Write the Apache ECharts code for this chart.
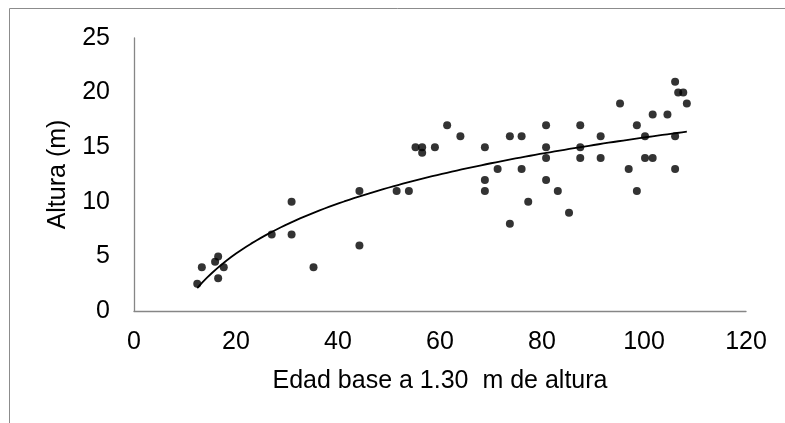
<!DOCTYPE html>
<html>
<head>
<meta charset="utf-8">
<script src="https://cdn.jsdelivr.net/npm/echarts@6/dist/echarts.min.js"></script>
<style>
html,body{margin:0;padding:0;background:#fff;}
#chart{width:785px;height:423px;}
</style>
</head>
<body>
<div id="chart"></div>
<script>
// Data
var edad = [12.4, 13.3, 15.9, 16.5, 16.5, 17.6, 27.0, 30.9, 30.9, 35.2,
            44.2, 44.2, 51.5, 53.9, 55.2, 56.5, 56.5, 59.0, 61.4, 64.0,
            68.8, 68.8, 68.8, 71.3, 73.7, 73.7, 76.0, 76.0, 77.3, 80.8,
            80.8, 80.8, 80.8, 83.1, 85.3, 87.5, 87.5, 87.5, 91.5, 91.5,
            95.3, 97.0, 98.6, 98.6, 100.2, 100.2, 101.7, 101.7, 104.6, 106.1,
            106.1, 106.1, 106.7, 107.7, 108.4];
var altura = [2.5, 4, 4.5, 5, 3, 4, 7, 7, 10, 4,
              11, 6, 11, 11, 15, 15, 14.5, 15, 17, 16,
              15, 12, 11, 13, 16, 8, 16, 13, 10, 17,
              15, 14, 12, 11, 9, 17, 15, 14, 16, 14,
              19, 13, 17, 11, 16, 14, 18, 14, 18, 21,
              16, 13, 20, 20, 19];
var xTicks = [0, 20, 40, 60, 80, 100, 120];
var yTicks = [0, 5, 10, 15, 20, 25];
var xTitle = 'Edad base a 1.30  m de altura';
var yTitle = 'Altura (m)';

var points = edad.map(function (x, i) { return [x, altura[i]]; });

// Logarithmic trendline (least squares on ln x), as in the original chart
function logFit(xs, ys) {
  var n = xs.length, sx = 0, sy = 0, sxx = 0, sxy = 0;
  for (var i = 0; i < n; i++) {
    var lx = Math.log(xs[i]);
    sx += lx; sy += ys[i]; sxx += lx * lx; sxy += lx * ys[i];
  }
  var a = (n * sxy - sx * sy) / (n * sxx - sx * sx);
  var b = (sy - a * sx) / n;
  return { a: a, b: b };
}
var fit = logFit(edad, altura);
var xMin = Math.min.apply(null, edad), xMax = Math.max.apply(null, edad);
var trend = [];
for (var k = 0; k <= 100; k++) {
  var xv = xMin + (xMax - xMin) * k / 100;
  trend.push([xv, fit.a * Math.log(xv) + fit.b]);
}

var FONT = '"Liberation Sans", Arial, sans-serif';
var chart = echarts.init(document.getElementById('chart'), null, { renderer: 'canvas' });
chart.setOption({
  backgroundColor: '#ffffff',
  animation: false,
  graphic: [{
    type: 'rect',
    shape: { x: 9.5, y: 8.5, width: 820, height: 450 },
    style: { fill: 'none', stroke: '#8c8c8c', lineWidth: 1 },
    silent: true
  }],
  grid: { left: 134, right: 39, top: 38, bottom: 112 },
  xAxis: {
    type: 'value',
    min: xTicks[0], max: xTicks[xTicks.length - 1],
    interval: xTicks[1] - xTicks[0],
    name: xTitle,
    nameLocation: 'middle',
    nameGap: 58,
    nameTextStyle: { fontFamily: FONT, fontSize: 25, color: '#000', lineHeight: 25 },
    axisLine: { show: true, lineStyle: { color: '#868686', width: 1.3 } },
    axisTick: { show: false },
    splitLine: { show: false },
    axisLabel: { margin: 19, fontFamily: FONT, fontSize: 25, color: '#000', lineHeight: 25 }
  },
  yAxis: {
    type: 'value',
    min: yTicks[0], max: yTicks[yTicks.length - 1],
    interval: yTicks[1] - yTicks[0],
    name: yTitle,
    nameLocation: 'middle',
    nameGap: 63,
    nameRotate: 90,
    nameTextStyle: { fontFamily: FONT, fontSize: 25, color: '#000', lineHeight: 25 },
    axisLine: { show: true, lineStyle: { color: '#868686', width: 1.3 } },
    axisTick: { show: false },
    splitLine: { show: false },
    axisLabel: { margin: 24, fontFamily: FONT, fontSize: 25, color: '#000' }
  },
  series: [{
    type: 'scatter',
    data: points,
    symbol: 'circle',
    symbolSize: 8,
    itemStyle: { color: '#000000' },
    z: 3
  }, {
    type: 'line',
    data: trend,
    showSymbol: false,
    smooth: false,
    lineStyle: { color: '#000000', width: 1.8 },
    z: 2
  }]
});
</script>
</body>
</html>
